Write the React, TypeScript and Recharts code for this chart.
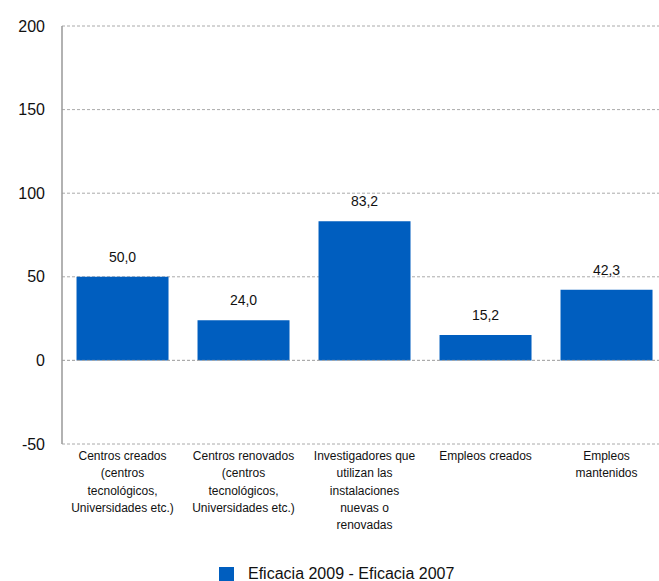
import React from 'react';
import {
  Bar,
  BarChart,
  CartesianGrid,
  LabelList,
  Legend,
  ReferenceLine,
  XAxis,
  YAxis,
} from 'recharts';

const categories = [
  'Centros creados (centros tecnológicos, Universidades etc.)',
  'Centros renovados (centros tecnológicos, Universidades etc.)',
  'Investigadores que utilizan las instalaciones nuevas o renovadas',
  'Empleos creados',
  'Empleos mantenidos',
];

// wrapped lines as in the original axis labels
const categoryLines = [
  ['Centros creados', '(centros', 'tecnológicos,', 'Universidades etc.)'],
  ['Centros renovados', '(centros', 'tecnológicos,', 'Universidades etc.)'],
  ['Investigadores que', 'utilizan las', 'instalaciones', 'nuevas o', 'renovadas'],
  ['Empleos creados'],
  ['Empleos', 'mantenidos'],
];

const eficacia = [50.0, 24.0, 83.2, 15.2, 42.3];
const yTicks = [-50, 0, 50, 100, 150, 200];
const seriesName = 'Eficacia 2009 - Eficacia 2007';

const data = categories.map((c, i) => ({ name: c, value: eficacia[i] }));

const FONT = '"Liberation Sans", Arial, sans-serif';
const BLUE = '#005EBF';

function CategoryTick(props: any) {
  const { x, y, index } = props;
  const lines = categoryLines[index] || [];
  return (
    <text x={x} y={y} textAnchor="middle" fontSize={12} fontFamily={FONT} fill="#111">
      {lines.map((l, i) => (
        <tspan key={i} x={x} dy={i === 0 ? 16 : 17.3}>
          {l}
        </tspan>
      ))}
    </text>
  );
}

function LegendBox() {
  return (
    <div style={{ display: 'flex', alignItems: 'center', fontFamily: FONT }}>
      <span style={{ width: 15, height: 15, background: BLUE, display: 'inline-block' }} />
      <span style={{ marginLeft: 14, fontSize: 16, color: '#111' }}>{seriesName}</span>
    </div>
  );
}

export default function App() {
  return (
    <div style={{ position: 'absolute', left: 0, top: 0, background: '#fff', overflow: 'hidden' }}>
      <BarChart
        width={659}
        height={581}
        data={data}
        margin={{ top: 26, right: -8, bottom: 0, left: 0 }}
        barCategoryGap="12%"
      >
        <CartesianGrid
          vertical={false}
          stroke="#aaa"
          strokeDasharray="3 2"
          horizontalValues={yTicks}
        />
        <XAxis
          dataKey="name"
          axisLine={false}
          tickLine={false}
          tickSize={0}
          tickMargin={0}
          interval={0}
          height={119}
          tick={<CategoryTick />}
        />
        <YAxis
          domain={[-50, 200]}
          ticks={yTicks}
          width={62}
          tickLine={false}
          tickSize={0}
          tickMargin={17}
          axisLine={{ stroke: '#999', strokeWidth: 1.5 }}
          tick={{ fontSize: 16, fontFamily: FONT, fill: '#111' }}
          allowDataOverflow
        />
        <ReferenceLine y={0} stroke="#aaa" strokeDasharray="3 2" />
        <Legend
          content={<LegendBox />}
          wrapperStyle={{ position: 'absolute', left: 219, top: 565, width: 'auto' }}
        />
        <Bar dataKey="value" name={seriesName} fill={BLUE} isAnimationActive={false}>
          <LabelList
            dataKey="value"
            position="top"
            offset={15}
            formatter={(v: number) => v.toFixed(1).replace('.', ',')}
            style={{ fontSize: 14, fontFamily: FONT, fill: '#111' }}
          />
        </Bar>
      </BarChart>
    </div>
  );
}
